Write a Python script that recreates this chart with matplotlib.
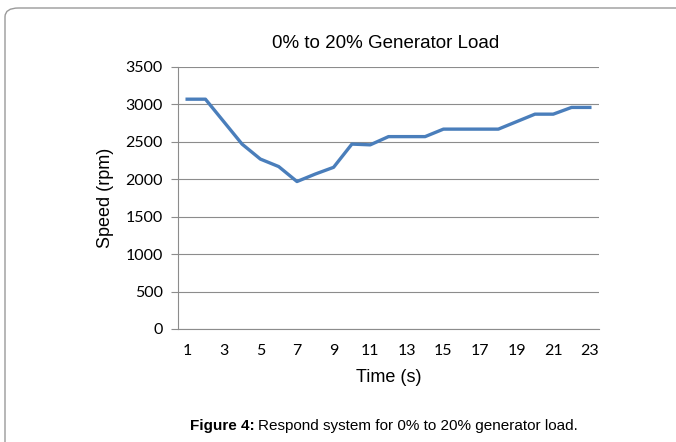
import matplotlib.pyplot as plt
from matplotlib.patches import FancyBboxPatch

# time steps (s) and measured speed (rpm)
time_s = list(range(1, 24))
speed_rpm = [3070, 3070, 2770, 2470, 2270, 2170, 1970, 2070, 2160, 2470,
             2460, 2570, 2570, 2570, 2670, 2670, 2670, 2670, 2770, 2870,
             2870, 2960, 2960]
y_ticks = [0, 500, 1000, 1500, 2000, 2500, 3000, 3500]
x_tick_labels = [str(t) for t in time_s[::2]]

line_col = "#4a7ebb"
grid_col = "#8c8c8c"

fig = plt.figure(figsize=(6.76, 4.42), dpi=100)

# rounded frame round the figure (runs off right and bottom)
frame = FancyBboxPatch((5 / 676, -0.1), 1.2, 1 - 8 / 442 + 0.1,
                       boxstyle="round,pad=0,rounding_size=0.02",
                       transform=fig.transFigure, fill=False,
                       edgecolor="#9a9a9a", linewidth=1.0)
fig.patches.append(frame)

ax = fig.add_axes([178 / 676, 1 - 329 / 442, 421 / 676, 262 / 442])
ax.plot(range(len(time_s)), speed_rpm, color=line_col, linewidth=2.4,
        solid_joinstyle="round")

ax.set_xlim(-0.5, len(time_s) - 0.5)
ax.set_ylim(0, 3500)
ax.set_yticks(y_ticks)
ax.set_yticklabels([str(v) for v in y_ticks], fontfamily="Lato", fontsize=11.5)
ax.set_xticks(range(0, len(time_s), 2))
ax.set_xticklabels(x_tick_labels, fontfamily="Lato", fontsize=11.5)
ax.tick_params(axis="x", length=0, pad=11)
ax.tick_params(axis="y", length=5, width=0.8, color=grid_col, pad=6)

ax.grid(axis="y", color=grid_col, linewidth=0.8)
ax.set_axisbelow(True)
for s in ["top", "right"]:
    ax.spines[s].set_visible(False)
ax.spines["left"].set_color(grid_col)
ax.spines["bottom"].set_color(grid_col)
ax.spines["left"].set_linewidth(0.8)
ax.spines["bottom"].set_linewidth(0.8)

ax.set_xlabel("Time (s)", fontfamily="Liberation Sans", fontsize=13, labelpad=8)
ax.set_ylabel("Speed (rpm)", fontfamily="Liberation Sans", fontsize=13, labelpad=8)

fig.text(386 / 676, 1 - 43 / 442, "0% to 20% Generator Load",
         ha="center", va="center", fontfamily="Liberation Sans", fontsize=13.5)

# caption
cap1 = fig.text(190 / 676, 1 - 426 / 442, "Figure 4:", ha="left", va="center",
                fontfamily="Liberation Sans", fontsize=11, fontweight="bold")
fig.canvas.draw()
bb = cap1.get_window_extent()
fig.text(bb.x1 / 676 + 3 / 676, 1 - 426 / 442,
         "Respond system for 0% to 20% generator load.", ha="left", va="center",
         fontfamily="Liberation Sans", fontsize=11)

fig.savefig("out.png", dpi=100)
